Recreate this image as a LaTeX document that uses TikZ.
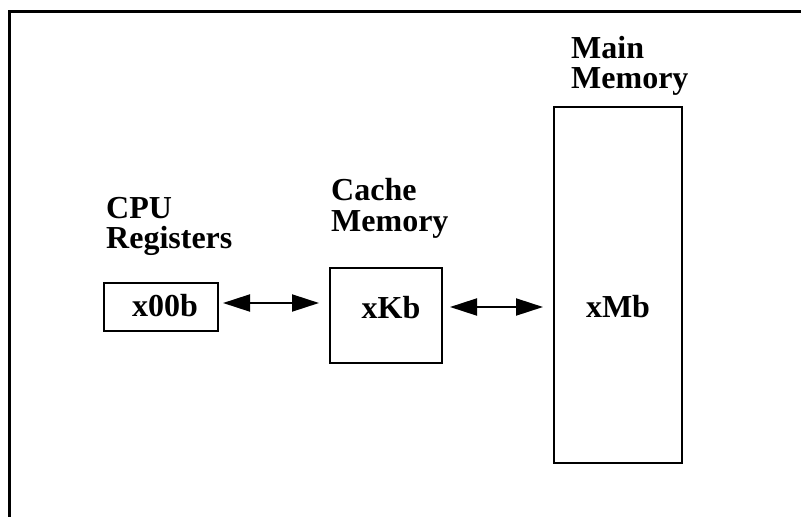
\documentclass[tikz,border=0pt]{standalone}
\usepackage{fontspec}
\setmainfont{Liberation Serif}
\usetikzlibrary{arrows.meta}
\begin{document}
\begin{tikzpicture}[x=1pt,y=-1pt,
  box/.style={draw=black,line width=2pt,rectangle,inner sep=0pt},
  lbl/.style={inner sep=0pt,anchor=base west,font=\fontsize{32}{30}\selectfont\bfseries},
  inlbl/.style={inner sep=0pt,anchor=base,font=\fontsize{32}{30}\selectfont\bfseries},
  biarrow/.style={line width=2pt,{Triangle[length=27pt,width=17pt]}-{Triangle[length=27pt,width=17pt]}}]
\useasboundingbox (0,0) rectangle (801,517);
% outer frame (only top and left edges visible)
\draw[line width=3pt] (9.5,517) -- (9.5,11.5) -- (801,11.5);
% boxes
\node[box,minimum width=114pt,minimum height=48pt] (cpu) at (161,307) {};
\node[box,minimum width=112pt,minimum height=95pt] (cache) at (386,315.5) {};
\node[box,minimum width=128pt,minimum height=356pt] (mainm) at (618,285) {};
% box texts
\node[inlbl] (t1) at (165,316) {x00b};
\node[inlbl] (t2) at (391,318) {xKb};
\node[inlbl] (t3) at (618,317) {xMb};
% headings
\node[lbl] (h1a) at (106,218) {CPU};
\node[lbl] (h1b) at (106,248) {Registers};
\node[lbl] (h2a) at (331,200) {Cache};
\node[lbl] (h2b) at (331,231) {Memory};
\node[lbl] (h3a) at (571,58) {Main};
\node[lbl] (h3b) at (571,88) {Memory};
% arrows
\draw[biarrow,shorten <=4pt,shorten >=10pt] ([yshift=4pt]cpu.east) -- ([yshift=4pt]cpu.east -| cache.west);
\draw[biarrow,shorten <=7pt,shorten >=10pt] ([yshift=8.5pt]cache.east) -- ([yshift=8.5pt]cache.east -| mainm.west);
\end{tikzpicture}
\end{document}
